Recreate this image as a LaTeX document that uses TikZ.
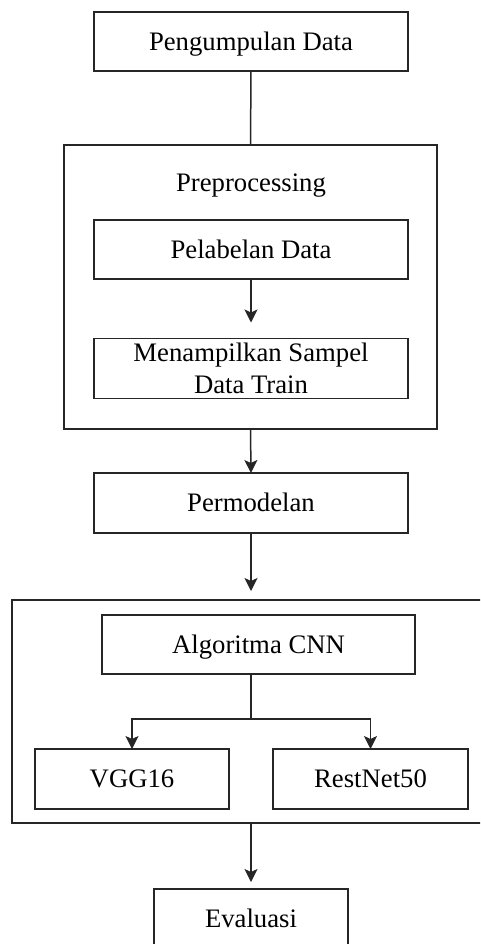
\documentclass[tikz,border=0pt]{standalone}
\usepackage{fontspec}
\setmainfont{Liberation Serif}
\usetikzlibrary{arrows.meta}
\begin{document}
\begin{tikzpicture}[x=1pt,y=-1pt,
  every node/.style={inner sep=0pt,outer sep=0pt,text=black},
  box/.style={draw=black!85,line width=1.5pt,rectangle,minimum width=314pt,minimum height=59pt,
    font=\fontsize{26.7}{32}\selectfont,text height=17.7pt,text depth=0pt,align=center},
  frame/.style={draw=black!85,line width=1.5pt,rectangle},
  conn/.style={draw=black!85,line width=1.5pt},
  arr/.style={conn,-{Stealth[length=13pt,width=13pt,inset=3pt]}},
  lbl/.style={font=\fontsize{26.7}{32}\selectfont,anchor=base}]
\useasboundingbox (0,0) rectangle (480,944);
\clip (0,0) rectangle (480,944);
% outer frames
\node[frame,minimum width=373pt,minimum height=284pt] (pre) at (250.5,287) {};
\node[frame,minimum width=478pt,minimum height=223pt] (mdl) at (251,711.5) {};
% boxes
\node[box] (pd) at (251,41.5) {Pengumpulan Data};
\node[lbl] (prelbl) at (251,192) {Preprocessing};
\node[box] (pl) at (251,249.5) {Pelabelan Data};
\node[box,minimum height=60pt,text height=49.7pt] (ms) at (251,368.5) {Menampilkan Sampel\\Data Train};
\node[box,minimum height=60pt] (pm) at (251,503) {Permodelan};
\node[box,minimum width=313pt] (cnn) at (258.5,644.5) {Algoritma CNN};
\node[box,minimum width=194pt,minimum height=60pt] (vgg) at (132,779) {VGG16};
\node[box,minimum width=195pt,minimum height=60pt] (rn) at (370.5,779) {RestNet50};
\node[box,minimum width=194pt,minimum height=60pt] (ev) at (251,919) {Evaluasi};
% connectors
\coordinate (j) at (251,719);
\draw[conn] (pd.south) -- (pre.north);
\draw[arr,shorten >=16pt] (pl.south) -- (ms.north);
\draw[arr] (pre.south) -- (pm.north);
\draw[arr,shorten >=9pt] (pm.south) -- (mdl.north);
\draw[conn] (cnn.south -| j) -- (j);
\draw[arr] (j) -| (vgg.north);
\draw[arr] (j) -| (rn.north);
\draw[arr,shorten >=7pt] (mdl.south) -- (ev.north);
\end{tikzpicture}
\end{document}
